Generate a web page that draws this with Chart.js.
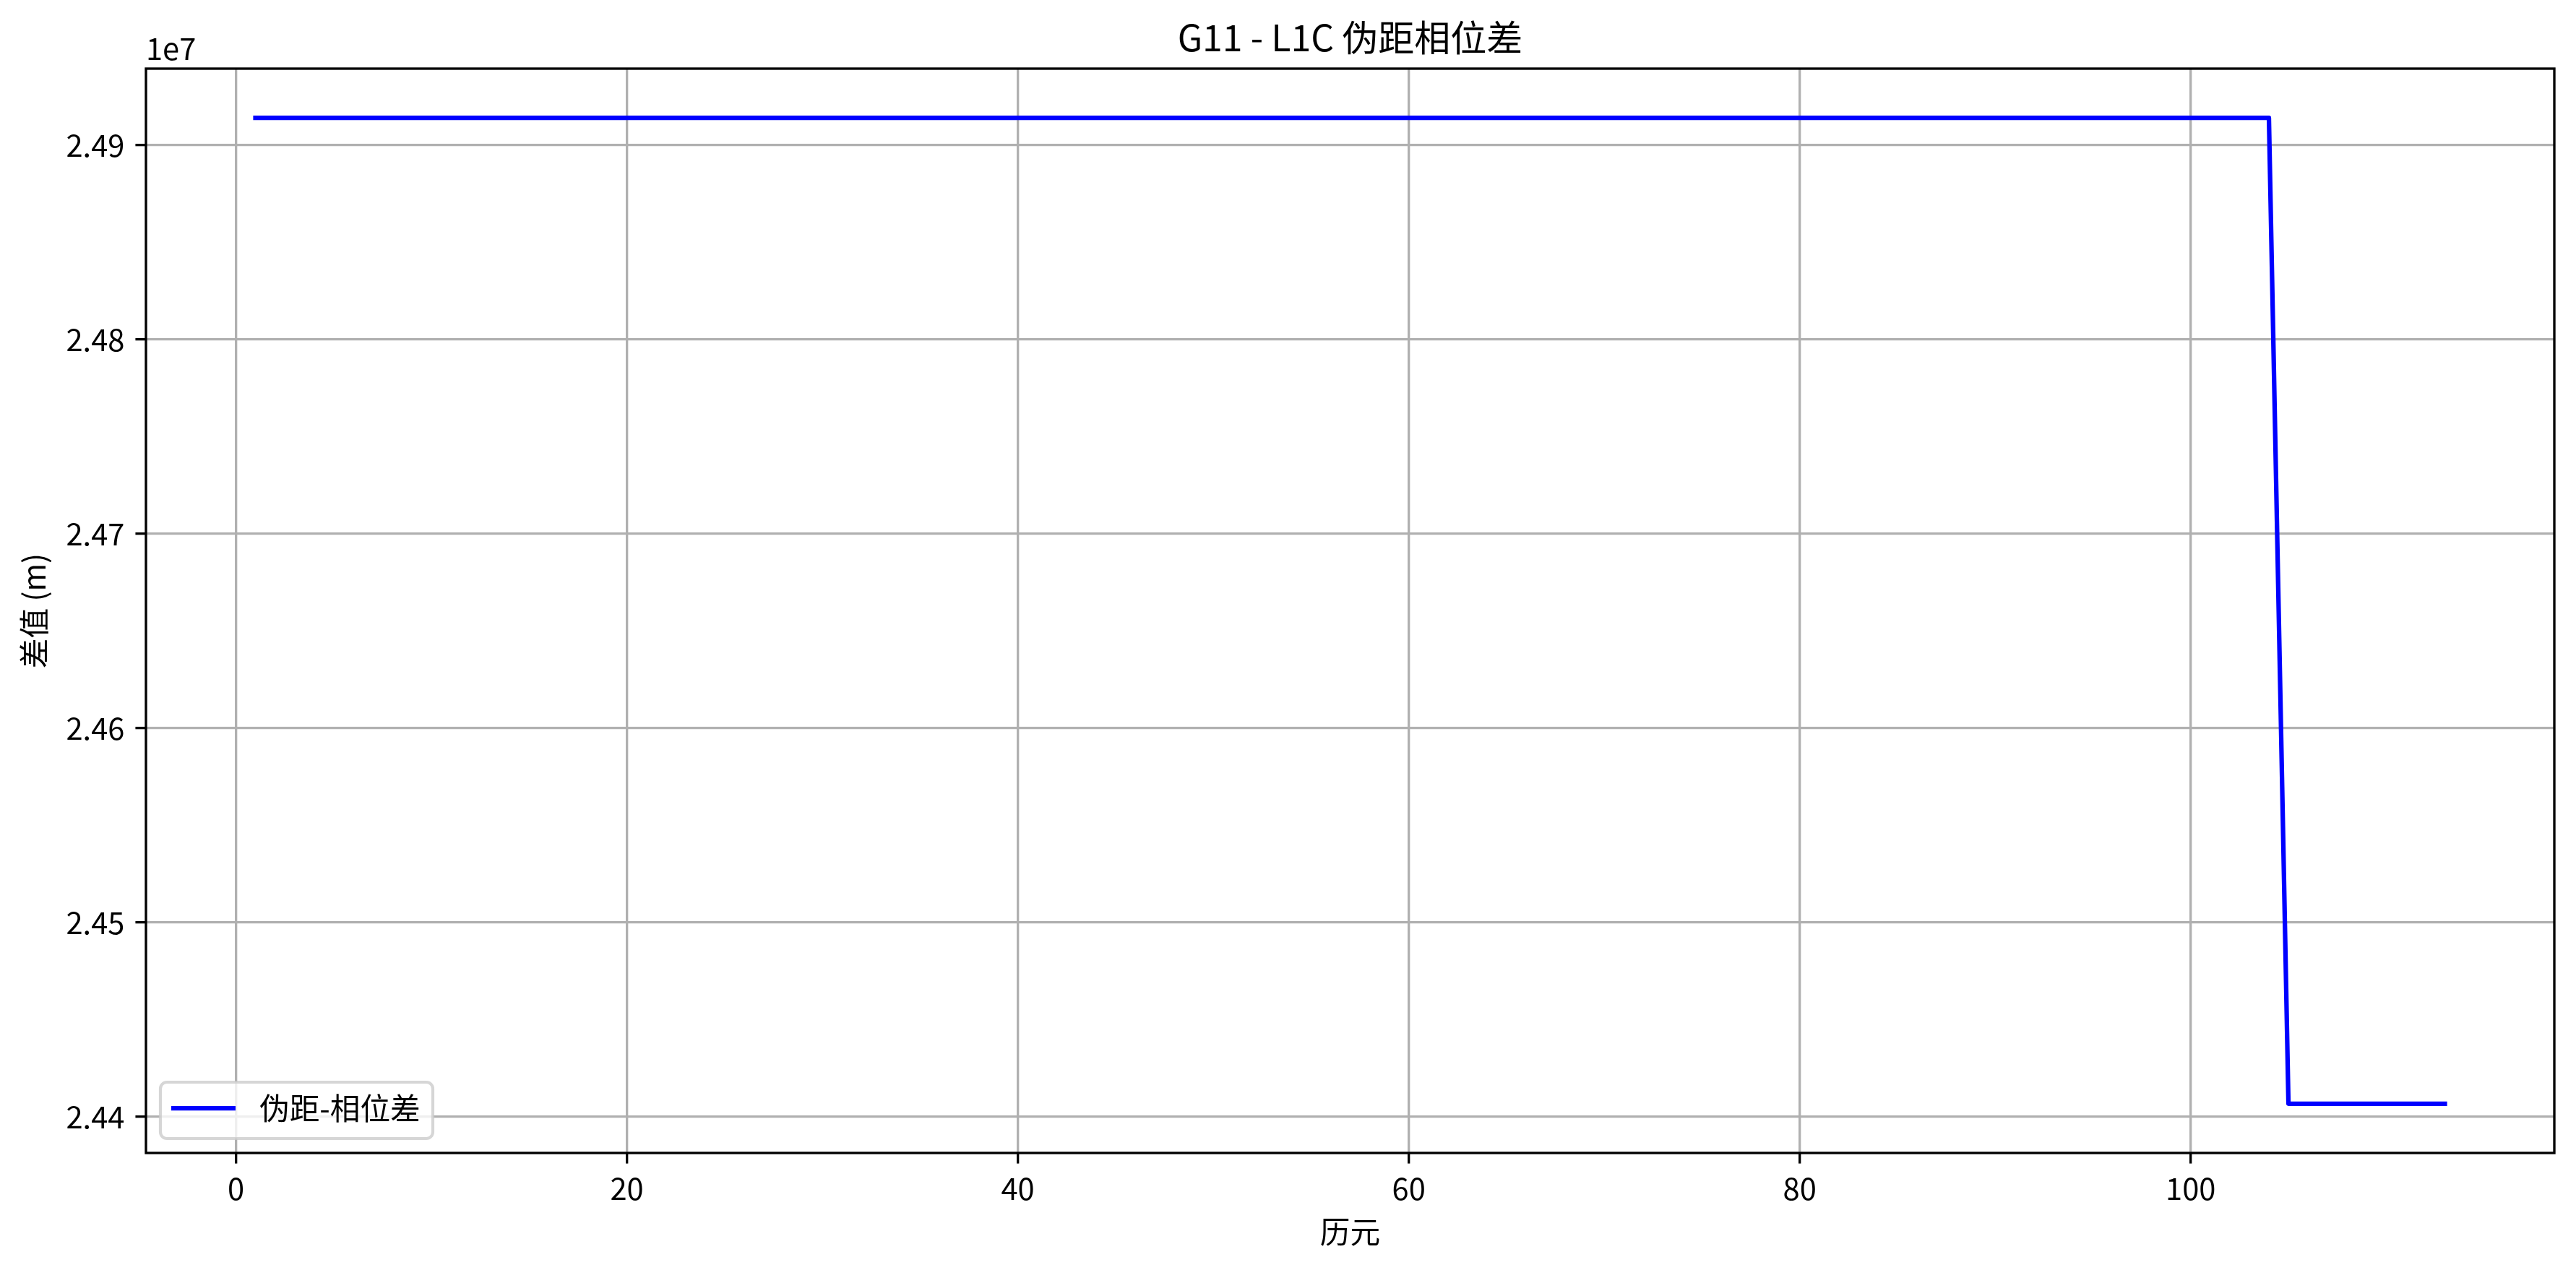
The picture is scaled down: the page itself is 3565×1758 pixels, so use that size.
<!DOCTYPE html>
<html>
<head>
<meta charset="utf-8">
<script src="https://cdn.jsdelivr.net/npm/chart.js@4.4.1/dist/chart.umd.min.js"></script>
<style>
html,body{margin:0;padding:0;background:#fff;}
#wrap{width:3565px;height:1758px;position:relative;}
</style>
</head>
<body>
<div id="wrap"><canvas id="c" width="3565" height="1758"></canvas></div>
<script>
// ---- data ----
const titleText = 'G11 - L1C 伪距相位差';
const xLabel = '历元';
const yLabel = '差值 (m)';
const seriesLabel = '伪距-相位差';
const offsetText = '1e7';

const epochs = [
  1,2,3,4,5,6,7,8,9,10,11,12,13,14,15,16,17,18,19,20,
  21,22,23,24,25,26,27,28,29,30,31,32,33,34,35,36,37,38,39,40,
  41,42,43,44,45,46,47,48,49,50,51,52,53,54,55,56,57,58,59,60,
  61,62,63,64,65,66,67,68,69,70,71,72,73,74,75,76,77,78,79,80,
  81,82,83,84,85,86,87,88,89,90,91,92,93,94,95,96,97,98,99,100,
  101,102,103,104,105,106,107,108,109,110,111,112,113
];
const diffValues = [
  24914000,24914000,24914000,24914000,24914000,24914000,24914000,24914000,24914000,24914000,
  24914000,24914000,24914000,24914000,24914000,24914000,24914000,24914000,24914000,24914000,
  24914000,24914000,24914000,24914000,24914000,24914000,24914000,24914000,24914000,24914000,
  24914000,24914000,24914000,24914000,24914000,24914000,24914000,24914000,24914000,24914000,
  24914000,24914000,24914000,24914000,24914000,24914000,24914000,24914000,24914000,24914000,
  24914000,24914000,24914000,24914000,24914000,24914000,24914000,24914000,24914000,24914000,
  24914000,24914000,24914000,24914000,24914000,24914000,24914000,24914000,24914000,24914000,
  24914000,24914000,24914000,24914000,24914000,24914000,24914000,24914000,24914000,24914000,
  24914000,24914000,24914000,24914000,24914000,24914000,24914000,24914000,24914000,24914000,
  24914000,24914000,24914000,24914000,24914000,24914000,24914000,24914000,24914000,24914000,
  24914000,24914000,24914000,24914000,
  24406700,24406700,24406700,24406700,24406700,24406700,24406700,24406700,24406700
];
const xTicks = [0, 20, 40, 60, 80, 100];
const yTicks = [24400000, 24500000, 24600000, 24700000, 24800000, 24900000];
const xRange = [-4.6, 118.6];
const yRange = [24381335, 24939365];

// ---- styles ----
const FONT = '"Noto Sans CJK SC", "Noto Sans", sans-serif';
const PT = 300 / 72;
Chart.defaults.font.family = FONT;
Chart.defaults.color = '#000';

const frameAndText = {
  id: 'frameAndText',
  afterDatasetsDraw(chart) {
    const {ctx, chartArea: a} = chart;
    ctx.save();
    // spines
    ctx.strokeStyle = '#000';
    ctx.lineWidth = 0.8 * PT;
    ctx.strokeRect(a.left, a.top, a.right - a.left, a.bottom - a.top);
    // title
    ctx.fillStyle = '#000';
    ctx.font = `${12 * PT}px ${FONT}`;
    ctx.textAlign = 'center';
    ctx.textBaseline = 'alphabetic';
    ctx.fillText(titleText, (a.left + a.right) / 2, a.top - 24);
    // offset text
    ctx.font = `${10 * PT}px ${FONT}`;
    ctx.textAlign = 'left';
    ctx.fillText(offsetText, a.left, a.top - 12);
    // legend
    const fs = 10 * PT;
    const bx = a.left + 20, bw = 377, bh = 78;
    const by = a.bottom - 20 - bh;
    const r = 9;
    ctx.beginPath();
    ctx.moveTo(bx + r, by);
    ctx.arcTo(bx + bw, by, bx + bw, by + bh, r);
    ctx.arcTo(bx + bw, by + bh, bx, by + bh, r);
    ctx.arcTo(bx, by + bh, bx, by, r);
    ctx.arcTo(bx, by, bx + bw, by, r);
    ctx.closePath();
    ctx.fillStyle = 'rgba(255,255,255,0.8)';
    ctx.fill();
    ctx.strokeStyle = 'rgba(204,204,204,0.8)';
    ctx.lineWidth = 1 * PT;
    ctx.stroke();
    const ds = chart.data.datasets[0];
    const cy = by + bh / 2 - 3;
    ctx.beginPath();
    ctx.moveTo(bx + 15, cy);
    ctx.lineTo(bx + 104, cy);
    ctx.strokeStyle = ds.borderColor;
    ctx.lineWidth = ds.borderWidth;
    ctx.lineCap = 'butt';
    ctx.stroke();
    ctx.fillStyle = '#000';
    ctx.font = `${fs}px ${FONT}`;
    ctx.textAlign = 'left';
    ctx.textBaseline = 'middle';
    ctx.fillText(ds.label, bx + 137, cy);
    ctx.restore();
  }
};

new Chart(document.getElementById('c'), {
  type: 'line',
  data: {
    datasets: [{
      label: seriesLabel,
      data: epochs.map((e, i) => ({x: e, y: diffValues[i]})),
      borderColor: '#0000ff',
      borderWidth: 1.5 * PT,
      pointRadius: 0,
      tension: 0,
      fill: false,
      borderCapStyle: 'square',
      borderJoinStyle: 'round'
    }]
  },
  options: {
    responsive: false,
    animation: false,
    devicePixelRatio: 1,
    layout: {padding: {left: 0, top: 95, right: 30, bottom: 0}},
    plugins: {legend: {display: false}, title: {display: false}, tooltip: {enabled: false}},
    scales: {
      x: {
        type: 'linear',
        min: xRange[0], max: xRange[1],
        afterFit(s) { s.height = 162; },
        afterBuildTicks(s) { s.ticks = xTicks.map(v => ({value: v})); },
        ticks: {font: {size: 10 * PT}, padding: 10, maxRotation: 0, color: '#000',
                callback: v => String(v)},
        grid: {color: '#b0b0b0', lineWidth: 0.8 * PT, tickLength: 3.5 * PT,
               tickColor: '#000', tickWidth: 0.8 * PT},
        border: {display: false},
        title: {display: true, text: xLabel, font: {size: 10 * PT}, color: '#000',
                padding: {top: 0, bottom: 28}}
      },
      y: {
        type: 'linear',
        min: yRange[0], max: yRange[1],
        afterFit(s) { s.width = 202; },
        afterBuildTicks(s) { s.ticks = yTicks.map(v => ({value: v})); },
        ticks: {font: {size: 10 * PT}, padding: 15, color: '#000',
                callback: v => (v / 1e7).toFixed(2)},
        grid: {color: '#b0b0b0', lineWidth: 0.8 * PT, tickLength: 3.5 * PT,
               tickColor: '#000', tickWidth: 0.8 * PT},
        border: {display: false},
        title: {display: true, text: yLabel, font: {size: 10 * PT}, color: '#000',
                padding: {top: 22, bottom: 0}}
      }
    }
  },
  plugins: [frameAndText]
});
</script>
</body>
</html>
